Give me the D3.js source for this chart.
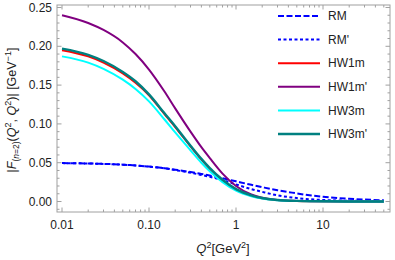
<!doctype html>
<html>
<head>
<meta charset="utf-8">
<style>
  body { margin: 0; background: #fff; }
  svg text { font-family: "Liberation Sans", Arial, sans-serif; fill: #222; }
  .frame { fill: none; stroke: #a0a0a0; stroke-width: 1; }
  .tick { stroke: #a0a0a0; stroke-width: 1; }
</style>
</head>
<body>
<svg width="395" height="260"></svg>
<script src="https://cdn.jsdelivr.net/npm/d3@7"></script>
<script>
// Q^2 sample points [GeV^2]
var q2 = [0.01, 0.02, 0.03, 0.05, 0.07, 0.1, 0.15, 0.2, 0.3, 0.4, 0.5, 0.7,
          1, 1.5, 2, 3, 5, 7, 10, 20, 30, 50];

var rm     = [0.0495, 0.0490, 0.0485, 0.0475, 0.0465, 0.0450, 0.0430, 0.0410, 0.0380, 0.0355, 0.0335, 0.0300,
              0.0260, 0.0215, 0.0185, 0.0145, 0.0105, 0.0080, 0.0062, 0.0035, 0.0025, 0.0015];
var rmP    = [0.0495, 0.0490, 0.0485, 0.0475, 0.0465, 0.0450, 0.0428, 0.0405, 0.0372, 0.0342, 0.0318, 0.0275,
              0.0220, 0.0160, 0.0125, 0.0080, 0.0045, 0.0030, 0.0020, 0.0010, 0.0007, 0.0004];
var hw1m   = [0.195, 0.187, 0.179, 0.165, 0.153, 0.137, 0.113, 0.096, 0.071, 0.054, 0.042, 0.027,
              0.0155, 0.0075, 0.0042, 0.0018, 0.0007, 0.0004, 0.0003, 0.0001, 0.0001, 0.0001];
var hw1mP  = [0.240, 0.230, 0.221, 0.205, 0.190, 0.170, 0.142, 0.120, 0.090, 0.070, 0.056, 0.036,
              0.020, 0.009, 0.005, 0.002, 0.0008, 0.0005, 0.0003, 0.0001, 0.0001, 0.0001];
var hw3m   = [0.187, 0.179, 0.171, 0.157, 0.145, 0.129, 0.106, 0.089, 0.066, 0.050, 0.039, 0.025,
              0.014, 0.0068, 0.0038, 0.0016, 0.0006, 0.0004, 0.0003, 0.0001, 0.0001, 0.0001];
var hw3mP  = [0.197, 0.189, 0.181, 0.167, 0.155, 0.138, 0.114, 0.097, 0.072, 0.055, 0.043, 0.028,
              0.016, 0.008, 0.0045, 0.002, 0.0008, 0.0005, 0.0003, 0.0001, 0.0001, 0.0001];

var names  = ["RM", "RM'", "HW1m", "HW1m'", "HW3m", "HW3m'"];
var colors = ["#0000ff", "#0000ff", "#ff0000", "#800080", "#00ffff", "#008080"];
var dashes = ["6,2.5", "3,2.5", null, null, null, null];

var yTicks = [0.00, 0.05, 0.10, 0.15, 0.20, 0.25];
var xTicks = [0.01, 0.1, 1, 10];
var xLabels = ["0.01", "0.10", "1", "10"];

var series = [rm, rmP, hw1m, hw1mP, hw3m, hw3mP];

var svg = d3.select("svg");

var x = d3.scaleLog().domain([0.00876, 58.9]).range([57, 390]);
var y = d3.scaleLinear().domain([-0.0135, 0.2532]).range([212, 5]);

var x0 = x.range()[0], x1 = x.range()[1], y0 = y.range()[0], y1 = y.range()[1];

// frame
svg.append("rect").attr("class", "frame")
  .attr("x", x0).attr("y", y1).attr("width", x1 - x0).attr("height", y0 - y1);

// y ticks (major + minor), left and right, pointing in
var yMinor = d3.range(-0.01, 0.2501, 0.01);
yMinor.forEach(function (v) {
  var major = Math.abs(Math.round(v * 20) - v * 20) < 1e-6;
  var len = major ? 4.5 : 2.5;
  svg.append("line").attr("class", "tick")
    .attr("x1", x0).attr("x2", x0 + len).attr("y1", y(v)).attr("y2", y(v));
  svg.append("line").attr("class", "tick")
    .attr("x1", x1).attr("x2", x1 - len).attr("y1", y(v)).attr("y2", y(v));
});

svg.append("g").selectAll("text").data(yTicks).enter().append("text")
  .attr("x", 52).attr("y", function (d) { return y(d); })
  .attr("dy", "0.35em").attr("text-anchor", "end")
  .attr("font-size", 12)
  .text(function (d) { return d.toFixed(2); });

// x ticks (log), bottom and top
var xAll = [];
[0.01, 0.1, 1, 10].forEach(function (dec) {
  for (var k = 1; k <= 9; k++) {
    var v = dec * k;
    if (v >= x.domain()[0] && v <= x.domain()[1]) xAll.push({ v: v, major: k === 1 });
  }
});
xAll.forEach(function (t) {
  var len = t.major ? 4.5 : 2.5;
  svg.append("line").attr("class", "tick")
    .attr("x1", x(t.v)).attr("x2", x(t.v)).attr("y1", y0).attr("y2", y0 - len);
  svg.append("line").attr("class", "tick")
    .attr("x1", x(t.v)).attr("x2", x(t.v)).attr("y1", y1).attr("y2", y1 + len);
});

svg.append("g").selectAll("text").data(xTicks).enter().append("text")
  .attr("x", function (d) { return x(d); }).attr("y", 229)
  .attr("text-anchor", "middle").attr("font-size", 12)
  .text(function (d, i) { return xLabels[i]; });

// axis titles
var xt = svg.append("text").attr("x", 223).attr("y", 253)
  .attr("text-anchor", "middle").attr("font-size", 13);
xt.append("tspan").attr("font-style", "italic").text("Q");
xt.append("tspan").attr("dy", -5).attr("font-size", 9).text("2");
xt.append("tspan").attr("dy", 5).text("[GeV");
xt.append("tspan").attr("dy", -5).attr("font-size", 9).text("2");
xt.append("tspan").attr("dy", 5).text("]");

var yt = svg.append("text").attr("transform", "translate(16,110) rotate(-90)")
  .attr("text-anchor", "middle").attr("font-size", 12.5);
yt.append("tspan").text("|");
yt.append("tspan").attr("font-style", "italic").text("F");
yt.append("tspan").attr("dy", 3).attr("font-size", 8.5).text("(");
yt.append("tspan").attr("font-size", 8.5).attr("font-style", "italic").text("n");
yt.append("tspan").attr("font-size", 8.5).text("=2)");
yt.append("tspan").attr("dy", -3).text("(");
yt.append("tspan").attr("font-style", "italic").text("Q");
yt.append("tspan").attr("dy", -5).attr("font-size", 9).text("2");
yt.append("tspan").attr("dy", 5).text(", ");
yt.append("tspan").attr("font-style", "italic").text("Q");
yt.append("tspan").attr("dy", -5).attr("font-size", 9).text("2");
yt.append("tspan").attr("dy", 5).text(")| [GeV");
yt.append("tspan").attr("dy", -5).attr("font-size", 9).text("\u22121");
yt.append("tspan").attr("dy", 5).text("]");

// curves
var line = d3.line()
  .x(function (d, i) { return x(q2[i]); })
  .y(function (d) { return y(d); })
  .curve(d3.curveMonotoneX);

svg.append("g").selectAll("path").data(series).enter().append("path")
  .attr("d", function (d) { return line(d); })
  .attr("fill", "none")
  .attr("stroke", function (d, i) { return colors[i]; })
  .attr("stroke-width", function (d, i) { return i === 5 ? 2.4 : 2; })
  .attr("stroke-dasharray", function (d, i) { return dashes[i]; });

// legend
var legend = svg.append("g").selectAll("g").data(names).enter().append("g")
  .attr("transform", function (d, i) { return "translate(278," + (16 + i * 23.6) + ")"; });
legend.append("line")
  .attr("x1", 0).attr("x2", 42).attr("y1", 0).attr("y2", 0)
  .attr("stroke", function (d, i) { return colors[i]; })
  .attr("stroke-width", function (d, i) { return i === 5 ? 2.4 : 2; })
  .attr("stroke-dasharray", function (d, i) { return dashes[i]; });
legend.append("text")
  .attr("x", 50).attr("dy", "0.35em").attr("font-size", 12)
  .text(function (d) { return d; });
</script>
</body>
</html>
